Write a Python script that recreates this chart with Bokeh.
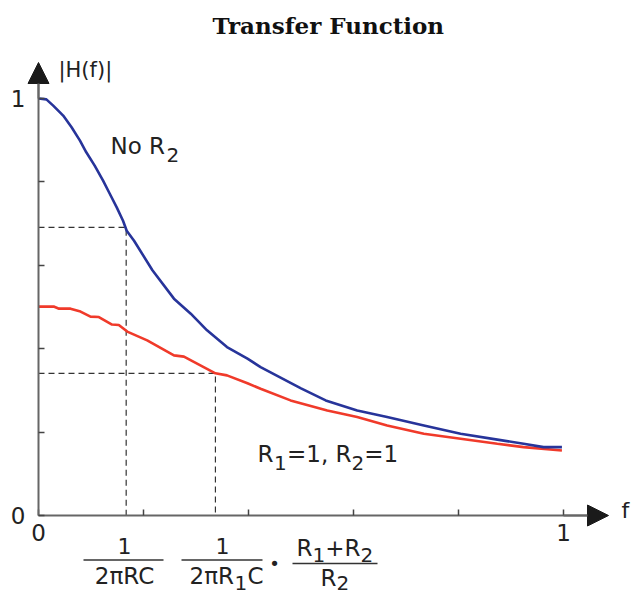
from bokeh.plotting import figure
from bokeh.models import ColumnDataSource, LinearAxis, FixedTicker, Arrow, NormalHead, Range1d
from bokeh.core.properties import value
from bokeh.embed import file_html
from bokeh.resources import INLINE

# ---------------- data ----------------
freq_no_r2 = [0.000, 0.015, 0.028, 0.047, 0.063, 0.079, 0.091, 0.107, 0.123, 0.136,
              0.149, 0.161, 0.168, 0.182, 0.217, 0.258, 0.290, 0.321, 0.359, 0.398,
              0.423, 0.500, 0.547, 0.607, 0.664, 0.734, 0.804, 0.874, 0.924, 0.962, 0.997]
mag_no_r2 = [1.000, 0.998, 0.983, 0.959, 0.931, 0.899, 0.871, 0.839, 0.803, 0.771,
             0.739, 0.707, 0.683, 0.659, 0.588, 0.520, 0.484, 0.444, 0.404, 0.376,
             0.356, 0.305, 0.276, 0.252, 0.236, 0.216, 0.196, 0.182, 0.172, 0.164, 0.164]

freq_r1r2 = [0.000, 0.029, 0.039, 0.061, 0.080, 0.099, 0.115, 0.140, 0.153, 0.169,
             0.207, 0.258, 0.277, 0.337, 0.359, 0.398, 0.423, 0.480, 0.550, 0.607,
             0.664, 0.734, 0.804, 0.874, 0.924, 0.997]
mag_r1r2 = [0.501, 0.501, 0.496, 0.496, 0.489, 0.477, 0.476, 0.458, 0.457, 0.441,
            0.420, 0.384, 0.381, 0.341, 0.336, 0.317, 0.304, 0.276, 0.252, 0.236,
            0.216, 0.196, 0.184, 0.172, 0.164, 0.156]

cutoff_freq = [0.167, 0.337]
cutoff_mag = [0.691, 0.341]

x_ticks = [0, 0.2, 0.4, 0.6, 0.8, 1.0]
y_ticks = [0, 0.2, 0.4, 0.6, 0.8, 1.0]
x_tick_labels = ["0", "", "", "", "", "1"]
y_tick_labels = ["0", "", "", "", "", "1"]

# ---------------- layout helpers (picture pixel -> data) ----------------
W, H = 631, 595
TOP = 42
def dx(px):
    return (px - 38) / 525.0
def dy(py):
    return (515 - py) / 417.0

p = figure(width=W, height=H, output_backend="svg", toolbar_location=None,
           x_range=Range1d(dx(0), dx(W)), y_range=Range1d(dy(H), dy(TOP)),
           x_axis_location=None, y_axis_location=None,
           min_border=0, min_border_top=TOP,
           title="Transfer Function")
p.grid.grid_line_color = None
p.outline_line_color = None
p.background_fill_color = "white"
p.border_fill_color = "white"
p.title.text_font = "DejaVu Serif"
p.title.text_font_style = "bold"
p.title.text_font_size = "23px"
p.title.text_color = "#111111"
p.title.align = "left"
p.title.offset = 212
p.title.standoff = 7

TXT = "#222222"
FONT = "DejaVu Sans"

# dashed guide lines
p.multi_line(xs=[[0, f, f] for f in cutoff_freq],
             ys=[[m, m, 0] for m in cutoff_mag],
             line_color="#333333", line_width=1.2, line_dash="6 4")

# curves
p.line(freq_r1r2, mag_r1r2, line_color="#f03a2a", line_width=2.6)
p.line(freq_no_r2, mag_no_r2, line_color="#27349a", line_width=2.6)

# axes (fixed inside the plot)
common = dict(axis_line_color="#666666", axis_line_width=2,
              major_tick_in=6, major_tick_out=0, major_tick_line_color="#444444",
              major_tick_line_width=1.5, minor_tick_line_color=None,
              major_label_text_font=FONT, major_label_text_font_size="23px",
              major_label_text_color=TXT)
xaxis = LinearAxis(fixed_location=0, bounds=(0, 1.05), ticker=FixedTicker(ticks=x_ticks),
                   major_label_overrides=dict(zip(x_ticks, x_tick_labels)),
                   major_label_standoff=8, **common)
yaxis = LinearAxis(fixed_location=0, bounds=(0, 1.04), ticker=FixedTicker(ticks=y_ticks),
                   major_label_overrides=dict(zip(y_ticks, y_tick_labels)),
                   major_label_standoff=13, **common)
p.add_layout(xaxis, "below")
p.add_layout(yaxis, "left")

# arrow heads
head = dict(size=21, fill_color="#1a1a1a", line_color="#1a1a1a", line_width=1)
p.add_layout(Arrow(end=NormalHead(**head), x_start=0, y_start=1.0, x_end=0, y_end=dy(62),
                   line_color="#666666", line_width=2))
p.add_layout(Arrow(end=NormalHead(**head), x_start=1.0, y_start=0, x_end=dx(608), y_end=0,
                   line_color="#666666", line_width=2))

# text pieces: (text, picture x, picture y, size, align)
pieces = [
    ("No R", 110, 145, 23, "left"),
    ("2", 166, 154, 20, "left"),
    ("R", 257, 453.5, 23, "left"),
    ("1", 273.5, 462.5, 20, "left"),
    ("=1, R", 286.5, 453.5, 23, "left"),
    ("2", 351, 462.5, 20, "left"),
    ("=1", 363.7, 453.5, 23, "left"),
    ("|H(f)|", 58, 69, 21, "left"),
    ("f", 621, 510, 22, "left"),
    ("1", 124, 545, 22, "center"),
    ("2πRC", 124, 575, 23, "center"),
    ("1", 222, 545, 22, "center"),
    ("2πR", 189, 575, 23, "left"),
    ("1", 234, 582, 20, "left"),
    ("C", 247, 575, 23, "left"),
    ("R", 296, 547, 23, "left"),
    ("1", 312, 554, 20, "left"),
    ("+R", 324.7, 547, 23, "left"),
    ("2", 360, 554, 20, "left"),
    ("R", 320, 577.5, 23, "left"),
    ("2", 336, 582, 20, "left"),
]
src = ColumnDataSource(dict(
    x=[dx(a[1]) for a in pieces], y=[dy(a[2]) for a in pieces],
    text=[a[0] for a in pieces], size=["%dpx" % a[3] for a in pieces],
    align=[a[4] for a in pieces]))
p.text(x="x", y="y", text="text", text_font_size="size", text_align="align",
       text_baseline="alphabetic", text_font=value(FONT), text_color=TXT, source=src)

# multiplication dot
p.text(x=[dx(274)], y=[dy(563)], text=["•"], text_font_size="18px", text_align="center",
       text_baseline="middle", text_font=value(FONT), text_color=TXT)

# fraction bars
bars_x0 = [dx(83), dx(181), dx(292)]
bars_x1 = [dx(163), dx(262), dx(377)]
bars_y = [dy(559.5), dy(559.5), dy(563)]
p.segment(x0=bars_x0, y0=bars_y, x1=bars_x1, y1=bars_y, line_color="#333333", line_width=1.3)

open("out.html", "w").write(file_html(p, INLINE))
